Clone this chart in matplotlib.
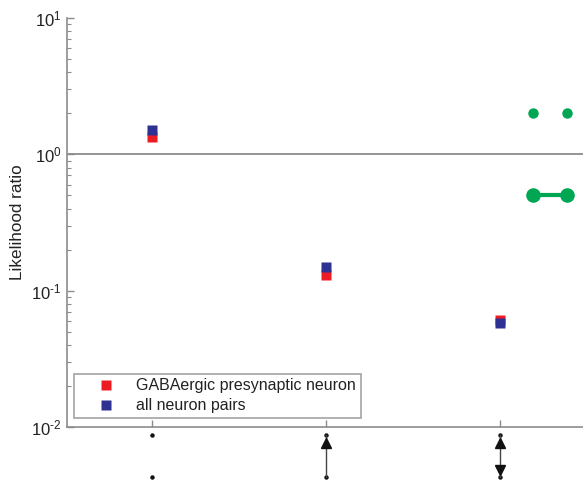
import matplotlib
matplotlib.use("Agg")
import matplotlib.pyplot as plt
import matplotlib.transforms as mtransforms
from matplotlib.ticker import LogLocator, FuncFormatter, NullFormatter
import numpy as np

plt.rcParams['font.family'] = ['Liberation Sans', 'DejaVu Sans']
plt.rcParams['mathtext.default'] = 'regular'
plt.rcParams['axes.unicode_minus'] = False

# Data
motif_x = [1, 2, 3]
gaba_vals = [1.33, 0.131, 0.0614]
all_vals = [1.50, 0.150, 0.0584]
series_labels = ["GABAergic presynaptic neuron", "all neuron pairs"]
ylabel = "Likelihood ratio"
# green reference motif (unconnected vs connected pair)
green_x = [3.195, 3.39]
green_unconnected_y = [2.0, 2.0]
green_connected_y = [0.5, 0.5]

RED = '#ed1c24'
BLUE = '#2e3192'
GREEN = '#00a651'
GRAY = '#8c8c8c'
TXT = '#222222'

fig = plt.figure(figsize=(5.83, 4.8), dpi=100)
ax = fig.add_axes([0.1149, 0.1104, 0.8851, 0.8521])

ax.set_yscale('log')
ax.set_ylim(0.01, 10)
ax.set_xlim(0.51, 3.48)

ax.axhline(1, color=GRAY, lw=1.3, zorder=1)

ax.plot(motif_x, gaba_vals, 's', color=RED, ms=6.5, mec='none', label=series_labels[0], zorder=3)
ax.plot(motif_x, all_vals, 's', color=BLUE, ms=6.5, mec='none', label=series_labels[1], zorder=4)

ax.plot(green_x, green_unconnected_y, 'o', color=GREEN, ms=7.5, mec='none', ls='none', zorder=3)
ax.plot(green_x, green_connected_y, 'o-', color=GREEN, ms=10.5, mec='none', lw=3, zorder=3)

# spines
for s in ['top', 'right']:
    ax.spines[s].set_visible(False)
for s in ['left', 'bottom']:
    ax.spines[s].set_color(GRAY)
    ax.spines[s].set_linewidth(1.2)

ax.set_xticks(motif_x)
ax.set_xticklabels([])
ax.tick_params(axis='x', direction='in', length=5, color=GRAY, width=1)


def fmt(v, pos):
    e = int(np.round(np.log10(v)))
    return r'$10^{%s}$' % ('\u2010' + str(-e) if e < 0 else str(e))


ax.yaxis.set_major_locator(LogLocator(base=10, numticks=10))
ax.yaxis.set_major_formatter(FuncFormatter(fmt))
ax.yaxis.set_minor_locator(LogLocator(base=10, subs=range(2, 10), numticks=10))
ax.yaxis.set_minor_formatter(NullFormatter())
ax.tick_params(axis='y', which='major', direction='in', length=5, color=GRAY, width=1,
               labelsize=12, labelcolor=TXT, pad=4)
ax.tick_params(axis='y', which='minor', direction='in', length=3, color=GRAY, width=0.8)

ax.set_ylabel(ylabel, fontsize=12.3, color=TXT)
ax.yaxis.set_label_coords(-0.081, 0.5)

leg = ax.legend(loc='lower left', bbox_to_anchor=(0.0136, 0.022), fontsize=11.5,
                frameon=True, fancybox=False, edgecolor=GRAY, handlelength=3.4,
                handletextpad=0.2, borderpad=0.3, labelspacing=0.3, borderaxespad=0,
                markerscale=1.0)
leg.get_frame().set_linewidth(1.2)
for t in leg.get_texts():
    t.set_color(TXT)

# motif diagrams under the x axis
trans = mtransforms.blended_transform_factory(ax.transData, ax.transAxes)
y_top, y_bot = -0.0196, -0.122
y_up, y_down = -0.040, -0.104
for xi in motif_x:
    ax.plot([xi, xi], [y_top, y_bot], 'o', color='#111111', ms=2.2, transform=trans, clip_on=False)
# motif 2: single arrow bottom -> top
ax.plot([2, 2], [y_bot, y_top], '-', color='#444444', lw=1, transform=trans, clip_on=False)
ax.plot([2], [y_up], '^', color='#111111', ms=7, transform=trans, clip_on=False)
# motif 3: bidirectional
ax.plot([3, 3], [y_bot, y_top], '-', color='#444444', lw=1, transform=trans, clip_on=False)
ax.plot([3], [y_up], '^', color='#111111', ms=7, transform=trans, clip_on=False)
ax.plot([3], [y_down], 'v', color='#111111', ms=7, transform=trans, clip_on=False)

fig.savefig('out.png', dpi=100)
